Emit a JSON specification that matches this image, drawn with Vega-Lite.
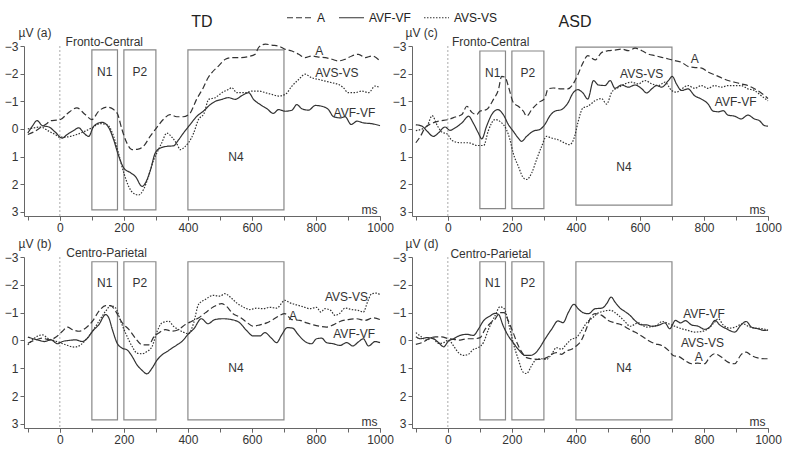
{
"$schema":"https://vega.github.io/schema/vega-lite/v6.json",
"padding":{"left":4,"top":4,"right":5,"bottom":5},
"config":{"font":"Liberation Sans","view":{"stroke":null},
"axis":{"grid":false,"domainColor":"#666","tickColor":"#666","labelColor":"#333","labelFontSize":12,"titleFontSize":12,"titleFontWeight":"normal","titleColor":"#333","tickSize":4,"labelPadding":2},
"title":{"fontWeight":"normal","fontSize":16,"color":"#222"},
"text":{"color":"#333","fontSize":12}},
"columns":2,
"spacing":{"row":41,"column":32},
"bounds":"flush",
"datasets":{"all":[
{"p":"a","z":0},{"p":"b","z":0},{"p":"c","z":0},{"p":"d","z":0},
{"p":"a","n":"N1","x1":100,"x2":180,"y1":-2.86,"y2":2.93,"nx":140,"ny":-2.06},
{"p":"a","n":"P2","x1":200,"x2":300,"y1":-2.86,"y2":2.93,"nx":250,"ny":-2.06},
{"p":"a","n":"N4","x1":400,"x2":700,"y1":-2.86,"y2":2.93,"nx":550,"ny":1.02},
{"p":"c","n":"N1","x1":100,"x2":180,"y1":-2.82,"y2":2.88,"nx":140,"ny":-2.04},
{"p":"c","n":"P2","x1":200,"x2":300,"y1":-2.82,"y2":2.88,"nx":250,"ny":-2.04},
{"p":"c","n":"N4","x1":400,"x2":700,"y1":-2.96,"y2":2.76,"nx":550,"ny":1.38},
{"p":"b","n":"N1","x1":100,"x2":180,"y1":-2.83,"y2":2.86,"nx":140,"ny":-2.05},
{"p":"b","n":"P2","x1":200,"x2":300,"y1":-2.83,"y2":2.86,"nx":250,"ny":-2.05},
{"p":"b","n":"N4","x1":400,"x2":700,"y1":-2.83,"y2":2.86,"nx":550,"ny":1.0},
{"p":"d","n":"N1","x1":100,"x2":180,"y1":-2.83,"y2":2.86,"nx":140,"ny":-2.05},
{"p":"d","n":"P2","x1":200,"x2":300,"y1":-2.83,"y2":2.86,"nx":250,"ny":-2.05},
{"p":"d","n":"N4","x1":400,"x2":700,"y1":-2.83,"y2":2.86,"nx":550,"ny":1.0},
{"p":"a","txt":"Fronto-Central","t":18,"v":-3.13},
{"p":"a","txt":"A","t":798,"v":-2.82},
{"p":"a","txt":"AVS-VS","t":798,"v":-2.04},
{"p":"a","txt":"AVF-VF","t":855,"v":-0.58},
{"p":"c","txt":"Fronto-Central","t":13,"v":-3.14},
{"p":"c","txt":"A","t":759,"v":-2.52},
{"p":"c","txt":"AVS-VS","t":538,"v":-1.98},
{"p":"c","txt":"AVF-VF","t":834,"v":-0.96},
{"p":"b","txt":"Centro-Parietal","t":20,"v":-3.13},
{"p":"b","txt":"AVS-VS","t":828,"v":-1.57},
{"p":"b","txt":"A","t":716,"v":-0.89},
{"p":"b","txt":"AVF-VF","t":854,"v":-0.24},
{"p":"d","txt":"Centro-Parietal","t":8,"v":-3.1},
{"p":"d","txt":"AVF-VF","t":735,"v":-0.96},
{"p":"d","txt":"AVS-VS","t":728,"v":0.09},
{"p":"d","txt":"A","t":771,"v":0.59},
{"p":"a","s":"A","t":-100,"v":0.2},{"p":"a","s":"A","t":-80,"v":0.1},{"p":"a","s":"A","t":-60,"v":-0.05},{"p":"a","s":"A","t":-40,"v":-0.2},{"p":"a","s":"A","t":-29,"v":-0.3},{"p":"a","s":"A","t":-10,"v":-0.32},{"p":"a","s":"A","t":2,"v":-0.34},{"p":"a","s":"A","t":23,"v":-0.55},{"p":"a","s":"A","t":53,"v":-0.76},{"p":"a","s":"A","t":79,"v":-0.52},{"p":"a","s":"A","t":100,"v":-0.34},{"p":"a","s":"A","t":121,"v":-0.64},{"p":"a","s":"A","t":147,"v":-0.79},{"p":"a","s":"A","t":168,"v":-0.7},{"p":"a","s":"A","t":181,"v":-0.52},{"p":"a","s":"A","t":194,"v":0.02},{"p":"a","s":"A","t":209,"v":0.5},{"p":"a","s":"A","t":225,"v":0.75},{"p":"a","s":"A","t":245,"v":0.73},{"p":"a","s":"A","t":261,"v":0.63},{"p":"a","s":"A","t":282,"v":0.27},{"p":"a","s":"A","t":302,"v":-0.04},{"p":"a","s":"A","t":323,"v":-0.34},{"p":"a","s":"A","t":344,"v":-0.52},{"p":"a","s":"A","t":365,"v":-0.44},{"p":"a","s":"A","t":385,"v":-0.44},{"p":"a","s":"A","t":406,"v":-0.56},{"p":"a","s":"A","t":427,"v":-1.07},{"p":"a","s":"A","t":448,"v":-1.49},{"p":"a","s":"A","t":463,"v":-1.85},{"p":"a","s":"A","t":475,"v":-2.04},{"p":"a","s":"A","t":496,"v":-2.28},{"p":"a","s":"A","t":517,"v":-2.52},{"p":"a","s":"A","t":537,"v":-2.58},{"p":"a","s":"A","t":558,"v":-2.58},{"p":"a","s":"A","t":590,"v":-2.62},{"p":"a","s":"A","t":610,"v":-2.7},{"p":"a","s":"A","t":621,"v":-2.95},{"p":"a","s":"A","t":642,"v":-3.07},{"p":"a","s":"A","t":662,"v":-3.03},{"p":"a","s":"A","t":683,"v":-3.0},{"p":"a","s":"A","t":704,"v":-2.88},{"p":"a","s":"A","t":725,"v":-2.82},{"p":"a","s":"A","t":746,"v":-2.7},{"p":"a","s":"A","t":766,"v":-2.58},{"p":"a","s":"A","t":787,"v":-2.64},{"p":"a","s":"A","t":808,"v":-2.6},{"p":"a","s":"A","t":829,"v":-2.58},{"p":"a","s":"A","t":850,"v":-2.52},{"p":"a","s":"A","t":870,"v":-2.46},{"p":"a","s":"A","t":891,"v":-2.52},{"p":"a","s":"A","t":912,"v":-2.64},{"p":"a","s":"A","t":933,"v":-2.7},{"p":"a","s":"A","t":954,"v":-2.58},{"p":"a","s":"A","t":975,"v":-2.64},{"p":"a","s":"A","t":1000,"v":-2.46},
{"p":"a","s":"AVS-VS","t":-100,"v":0.0},{"p":"a","s":"AVS-VS","t":-81,"v":-0.04},{"p":"a","s":"AVS-VS","t":-60,"v":-0.07},{"p":"a","s":"AVS-VS","t":-35,"v":0.08},{"p":"a","s":"AVS-VS","t":-15,"v":0.2},{"p":"a","s":"AVS-VS","t":0,"v":0.3},{"p":"a","s":"AVS-VS","t":23,"v":0.29},{"p":"a","s":"AVS-VS","t":53,"v":0.2},{"p":"a","s":"AVS-VS","t":79,"v":0.08},{"p":"a","s":"AVS-VS","t":100,"v":-0.04},{"p":"a","s":"AVS-VS","t":126,"v":-0.19},{"p":"a","s":"AVS-VS","t":147,"v":-0.16},{"p":"a","s":"AVS-VS","t":168,"v":0.27},{"p":"a","s":"AVS-VS","t":183,"v":0.87},{"p":"a","s":"AVS-VS","t":200,"v":1.6},{"p":"a","s":"AVS-VS","t":215,"v":2.08},{"p":"a","s":"AVS-VS","t":230,"v":2.33},{"p":"a","s":"AVS-VS","t":246,"v":2.39},{"p":"a","s":"AVS-VS","t":261,"v":2.2},{"p":"a","s":"AVS-VS","t":277,"v":1.72},{"p":"a","s":"AVS-VS","t":293,"v":1.12},{"p":"a","s":"AVS-VS","t":303,"v":0.87},{"p":"a","s":"AVS-VS","t":318,"v":0.51},{"p":"a","s":"AVS-VS","t":334,"v":0.15},{"p":"a","s":"AVS-VS","t":350,"v":0.3},{"p":"a","s":"AVS-VS","t":366,"v":0.55},{"p":"a","s":"AVS-VS","t":376,"v":0.75},{"p":"a","s":"AVS-VS","t":390,"v":0.65},{"p":"a","s":"AVS-VS","t":402,"v":0.5},{"p":"a","s":"AVS-VS","t":418,"v":0.15},{"p":"a","s":"AVS-VS","t":433,"v":-0.34},{"p":"a","s":"AVS-VS","t":450,"v":-0.55},{"p":"a","s":"AVS-VS","t":465,"v":-1.07},{"p":"a","s":"AVS-VS","t":485,"v":-1.13},{"p":"a","s":"AVS-VS","t":506,"v":-1.31},{"p":"a","s":"AVS-VS","t":527,"v":-1.43},{"p":"a","s":"AVS-VS","t":537,"v":-1.49},{"p":"a","s":"AVS-VS","t":553,"v":-1.31},{"p":"a","s":"AVS-VS","t":579,"v":-1.31},{"p":"a","s":"AVS-VS","t":600,"v":-1.37},{"p":"a","s":"AVS-VS","t":621,"v":-1.37},{"p":"a","s":"AVS-VS","t":642,"v":-1.31},{"p":"a","s":"AVS-VS","t":662,"v":-1.25},{"p":"a","s":"AVS-VS","t":683,"v":-1.19},{"p":"a","s":"AVS-VS","t":704,"v":-1.25},{"p":"a","s":"AVS-VS","t":725,"v":-1.55},{"p":"a","s":"AVS-VS","t":746,"v":-1.79},{"p":"a","s":"AVS-VS","t":766,"v":-1.98},{"p":"a","s":"AVS-VS","t":787,"v":-1.85},{"p":"a","s":"AVS-VS","t":808,"v":-1.79},{"p":"a","s":"AVS-VS","t":829,"v":-1.73},{"p":"a","s":"AVS-VS","t":850,"v":-1.67},{"p":"a","s":"AVS-VS","t":870,"v":-1.61},{"p":"a","s":"AVS-VS","t":885,"v":-1.5},{"p":"a","s":"AVS-VS","t":901,"v":-1.31},{"p":"a","s":"AVS-VS","t":922,"v":-1.31},{"p":"a","s":"AVS-VS","t":943,"v":-1.37},{"p":"a","s":"AVS-VS","t":964,"v":-1.31},{"p":"a","s":"AVS-VS","t":985,"v":-1.55},{"p":"a","s":"AVS-VS","t":1000,"v":-1.49},
{"p":"a","s":"AVF-VF","t":-100,"v":0.15},{"p":"a","s":"AVF-VF","t":-86,"v":-0.1},{"p":"a","s":"AVF-VF","t":-71,"v":-0.3},{"p":"a","s":"AVF-VF","t":-55,"v":-0.12},{"p":"a","s":"AVF-VF","t":-34,"v":-0.07},{"p":"a","s":"AVF-VF","t":-14,"v":0.12},{"p":"a","s":"AVF-VF","t":7,"v":0.33},{"p":"a","s":"AVF-VF","t":23,"v":0.2},{"p":"a","s":"AVF-VF","t":44,"v":0.05},{"p":"a","s":"AVF-VF","t":59,"v":-0.04},{"p":"a","s":"AVF-VF","t":75,"v":0.15},{"p":"a","s":"AVF-VF","t":90,"v":0.27},{"p":"a","s":"AVF-VF","t":106,"v":-0.1},{"p":"a","s":"AVF-VF","t":132,"v":-0.24},{"p":"a","s":"AVF-VF","t":153,"v":-0.04},{"p":"a","s":"AVF-VF","t":168,"v":0.39},{"p":"a","s":"AVF-VF","t":184,"v":0.99},{"p":"a","s":"AVF-VF","t":200,"v":1.42},{"p":"a","s":"AVF-VF","t":220,"v":1.58},{"p":"a","s":"AVF-VF","t":236,"v":1.72},{"p":"a","s":"AVF-VF","t":257,"v":2.08},{"p":"a","s":"AVF-VF","t":267,"v":1.96},{"p":"a","s":"AVF-VF","t":283,"v":1.48},{"p":"a","s":"AVF-VF","t":298,"v":0.87},{"p":"a","s":"AVF-VF","t":314,"v":0.69},{"p":"a","s":"AVF-VF","t":334,"v":0.63},{"p":"a","s":"AVF-VF","t":355,"v":0.61},{"p":"a","s":"AVF-VF","t":371,"v":0.39},{"p":"a","s":"AVF-VF","t":386,"v":0.15},{"p":"a","s":"AVF-VF","t":407,"v":-0.16},{"p":"a","s":"AVF-VF","t":428,"v":-0.46},{"p":"a","s":"AVF-VF","t":448,"v":-0.64},{"p":"a","s":"AVF-VF","t":470,"v":-0.88},{"p":"a","s":"AVF-VF","t":486,"v":-1.0},{"p":"a","s":"AVF-VF","t":506,"v":-1.07},{"p":"a","s":"AVF-VF","t":527,"v":-1.13},{"p":"a","s":"AVF-VF","t":548,"v":-1.07},{"p":"a","s":"AVF-VF","t":569,"v":-1.21},{"p":"a","s":"AVF-VF","t":590,"v":-1.31},{"p":"a","s":"AVF-VF","t":605,"v":-1.07},{"p":"a","s":"AVF-VF","t":626,"v":-0.88},{"p":"a","s":"AVF-VF","t":647,"v":-0.73},{"p":"a","s":"AVF-VF","t":667,"v":-0.56},{"p":"a","s":"AVF-VF","t":683,"v":-0.7},{"p":"a","s":"AVF-VF","t":704,"v":-0.64},{"p":"a","s":"AVF-VF","t":725,"v":-0.68},{"p":"a","s":"AVF-VF","t":740,"v":-0.88},{"p":"a","s":"AVF-VF","t":756,"v":-0.73},{"p":"a","s":"AVF-VF","t":777,"v":-0.68},{"p":"a","s":"AVF-VF","t":798,"v":-0.85},{"p":"a","s":"AVF-VF","t":818,"v":-0.82},{"p":"a","s":"AVF-VF","t":839,"v":-0.7},{"p":"a","s":"AVF-VF","t":855,"v":-0.44},{"p":"a","s":"AVF-VF","t":876,"v":-0.4},{"p":"a","s":"AVF-VF","t":891,"v":-0.44},{"p":"a","s":"AVF-VF","t":910,"v":-0.16},{"p":"a","s":"AVF-VF","t":928,"v":-0.28},{"p":"a","s":"AVF-VF","t":948,"v":-0.22},{"p":"a","s":"AVF-VF","t":974,"v":-0.19},{"p":"a","s":"AVF-VF","t":1000,"v":-0.12},
{"p":"c","s":"A","t":-100,"v":0.5},{"p":"c","s":"A","t":-86,"v":0.27},{"p":"c","s":"A","t":-71,"v":-0.04},{"p":"c","s":"A","t":-50,"v":-0.2},{"p":"c","s":"A","t":-29,"v":-0.28},{"p":"c","s":"A","t":2,"v":-0.34},{"p":"c","s":"A","t":23,"v":-0.43},{"p":"c","s":"A","t":44,"v":-0.52},{"p":"c","s":"A","t":59,"v":-0.82},{"p":"c","s":"A","t":75,"v":-0.6},{"p":"c","s":"A","t":90,"v":-0.52},{"p":"c","s":"A","t":100,"v":-0.64},{"p":"c","s":"A","t":121,"v":-0.7},{"p":"c","s":"A","t":142,"v":-1.06},{"p":"c","s":"A","t":158,"v":-1.42},{"p":"c","s":"A","t":168,"v":-1.9},{"p":"c","s":"A","t":179,"v":-1.87},{"p":"c","s":"A","t":189,"v":-1.54},{"p":"c","s":"A","t":205,"v":-0.94},{"p":"c","s":"A","t":220,"v":-0.82},{"p":"c","s":"A","t":236,"v":-0.64},{"p":"c","s":"A","t":246,"v":-0.46},{"p":"c","s":"A","t":262,"v":-0.7},{"p":"c","s":"A","t":282,"v":-0.94},{"p":"c","s":"A","t":303,"v":-1.12},{"p":"c","s":"A","t":313,"v":-1.45},{"p":"c","s":"A","t":329,"v":-1.48},{"p":"c","s":"A","t":355,"v":-1.45},{"p":"c","s":"A","t":375,"v":-1.45},{"p":"c","s":"A","t":396,"v":-1.72},{"p":"c","s":"A","t":406,"v":-1.96},{"p":"c","s":"A","t":422,"v":-2.39},{"p":"c","s":"A","t":437,"v":-2.65},{"p":"c","s":"A","t":460,"v":-2.5},{"p":"c","s":"A","t":481,"v":-2.77},{"p":"c","s":"A","t":501,"v":-2.83},{"p":"c","s":"A","t":522,"v":-2.85},{"p":"c","s":"A","t":543,"v":-2.89},{"p":"c","s":"A","t":564,"v":-2.83},{"p":"c","s":"A","t":585,"v":-2.92},{"p":"c","s":"A","t":606,"v":-2.83},{"p":"c","s":"A","t":626,"v":-2.71},{"p":"c","s":"A","t":647,"v":-2.65},{"p":"c","s":"A","t":668,"v":-2.59},{"p":"c","s":"A","t":689,"v":-2.53},{"p":"c","s":"A","t":709,"v":-2.47},{"p":"c","s":"A","t":730,"v":-2.41},{"p":"c","s":"A","t":752,"v":-2.25},{"p":"c","s":"A","t":773,"v":-2.22},{"p":"c","s":"A","t":793,"v":-2.2},{"p":"c","s":"A","t":814,"v":-2.05},{"p":"c","s":"A","t":835,"v":-1.95},{"p":"c","s":"A","t":854,"v":-1.85},{"p":"c","s":"A","t":875,"v":-1.75},{"p":"c","s":"A","t":896,"v":-1.69},{"p":"c","s":"A","t":916,"v":-1.63},{"p":"c","s":"A","t":937,"v":-1.57},{"p":"c","s":"A","t":958,"v":-1.45},{"p":"c","s":"A","t":979,"v":-1.3},{"p":"c","s":"A","t":1000,"v":-1.1},
{"p":"c","s":"AVF-VF","t":-100,"v":-0.15},{"p":"c","s":"AVF-VF","t":-81,"v":-0.1},{"p":"c","s":"AVF-VF","t":-65,"v":0.08},{"p":"c","s":"AVF-VF","t":-45,"v":0.27},{"p":"c","s":"AVF-VF","t":-29,"v":0.14},{"p":"c","s":"AVF-VF","t":-9,"v":-0.07},{"p":"c","s":"AVF-VF","t":7,"v":0.05},{"p":"c","s":"AVF-VF","t":23,"v":-0.04},{"p":"c","s":"AVF-VF","t":44,"v":-0.22},{"p":"c","s":"AVF-VF","t":65,"v":-0.46},{"p":"c","s":"AVF-VF","t":79,"v":-0.22},{"p":"c","s":"AVF-VF","t":95,"v":0.14},{"p":"c","s":"AVF-VF","t":106,"v":0.36},{"p":"c","s":"AVF-VF","t":121,"v":-0.1},{"p":"c","s":"AVF-VF","t":137,"v":-0.52},{"p":"c","s":"AVF-VF","t":156,"v":-0.7},{"p":"c","s":"AVF-VF","t":173,"v":-0.52},{"p":"c","s":"AVF-VF","t":189,"v":-0.16},{"p":"c","s":"AVF-VF","t":204,"v":0.08},{"p":"c","s":"AVF-VF","t":220,"v":0.33},{"p":"c","s":"AVF-VF","t":230,"v":0.45},{"p":"c","s":"AVF-VF","t":246,"v":0.27},{"p":"c","s":"AVF-VF","t":267,"v":0.08},{"p":"c","s":"AVF-VF","t":287,"v":0.02},{"p":"c","s":"AVF-VF","t":303,"v":-0.16},{"p":"c","s":"AVF-VF","t":318,"v":-0.46},{"p":"c","s":"AVF-VF","t":334,"v":-0.64},{"p":"c","s":"AVF-VF","t":355,"v":-0.7},{"p":"c","s":"AVF-VF","t":375,"v":-0.94},{"p":"c","s":"AVF-VF","t":391,"v":-1.3},{"p":"c","s":"AVF-VF","t":406,"v":-1.42},{"p":"c","s":"AVF-VF","t":422,"v":-1.3},{"p":"c","s":"AVF-VF","t":437,"v":-1.08},{"p":"c","s":"AVF-VF","t":455,"v":-1.75},{"p":"c","s":"AVF-VF","t":470,"v":-1.59},{"p":"c","s":"AVF-VF","t":491,"v":-1.57},{"p":"c","s":"AVF-VF","t":507,"v":-1.75},{"p":"c","s":"AVF-VF","t":522,"v":-1.47},{"p":"c","s":"AVF-VF","t":543,"v":-1.59},{"p":"c","s":"AVF-VF","t":564,"v":-1.51},{"p":"c","s":"AVF-VF","t":585,"v":-1.59},{"p":"c","s":"AVF-VF","t":606,"v":-1.45},{"p":"c","s":"AVF-VF","t":621,"v":-1.3},{"p":"c","s":"AVF-VF","t":637,"v":-1.45},{"p":"c","s":"AVF-VF","t":652,"v":-1.57},{"p":"c","s":"AVF-VF","t":668,"v":-1.51},{"p":"c","s":"AVF-VF","t":689,"v":-1.75},{"p":"c","s":"AVF-VF","t":701,"v":-1.9},{"p":"c","s":"AVF-VF","t":714,"v":-1.63},{"p":"c","s":"AVF-VF","t":730,"v":-1.39},{"p":"c","s":"AVF-VF","t":750,"v":-1.45},{"p":"c","s":"AVF-VF","t":771,"v":-1.2},{"p":"c","s":"AVF-VF","t":792,"v":-1.08},{"p":"c","s":"AVF-VF","t":813,"v":-0.9},{"p":"c","s":"AVF-VF","t":828,"v":-0.65},{"p":"c","s":"AVF-VF","t":845,"v":-0.62},{"p":"c","s":"AVF-VF","t":860,"v":-0.66},{"p":"c","s":"AVF-VF","t":875,"v":-0.5},{"p":"c","s":"AVF-VF","t":896,"v":-0.46},{"p":"c","s":"AVF-VF","t":916,"v":-0.36},{"p":"c","s":"AVF-VF","t":937,"v":-0.5},{"p":"c","s":"AVF-VF","t":958,"v":-0.36},{"p":"c","s":"AVF-VF","t":973,"v":-0.3},{"p":"c","s":"AVF-VF","t":989,"v":-0.12},{"p":"c","s":"AVF-VF","t":1000,"v":-0.1},
{"p":"c","s":"AVS-VS","t":-100,"v":0.06},{"p":"c","s":"AVS-VS","t":-80,"v":0.0},{"p":"c","s":"AVS-VS","t":-65,"v":-0.1},{"p":"c","s":"AVS-VS","t":-49,"v":-0.48},{"p":"c","s":"AVS-VS","t":-33,"v":-0.12},{"p":"c","s":"AVS-VS","t":-18,"v":0.12},{"p":"c","s":"AVS-VS","t":-2,"v":0.18},{"p":"c","s":"AVS-VS","t":13,"v":0.42},{"p":"c","s":"AVS-VS","t":39,"v":0.5},{"p":"c","s":"AVS-VS","t":65,"v":0.5},{"p":"c","s":"AVS-VS","t":91,"v":0.6},{"p":"c","s":"AVS-VS","t":112,"v":0.6},{"p":"c","s":"AVS-VS","t":126,"v":0.08},{"p":"c","s":"AVS-VS","t":147,"v":-0.34},{"p":"c","s":"AVS-VS","t":168,"v":-0.22},{"p":"c","s":"AVS-VS","t":183,"v":0.02},{"p":"c","s":"AVS-VS","t":194,"v":0.39},{"p":"c","s":"AVS-VS","t":204,"v":0.87},{"p":"c","s":"AVS-VS","t":220,"v":1.35},{"p":"c","s":"AVS-VS","t":236,"v":1.77},{"p":"c","s":"AVS-VS","t":246,"v":1.83},{"p":"c","s":"AVS-VS","t":262,"v":1.59},{"p":"c","s":"AVS-VS","t":277,"v":1.11},{"p":"c","s":"AVS-VS","t":293,"v":0.63},{"p":"c","s":"AVS-VS","t":308,"v":0.27},{"p":"c","s":"AVS-VS","t":324,"v":0.33},{"p":"c","s":"AVS-VS","t":344,"v":0.39},{"p":"c","s":"AVS-VS","t":365,"v":0.51},{"p":"c","s":"AVS-VS","t":380,"v":0.57},{"p":"c","s":"AVS-VS","t":396,"v":0.27},{"p":"c","s":"AVS-VS","t":406,"v":-0.22},{"p":"c","s":"AVS-VS","t":422,"v":-0.76},{"p":"c","s":"AVS-VS","t":437,"v":-0.82},{"p":"c","s":"AVS-VS","t":460,"v":-1.02},{"p":"c","s":"AVS-VS","t":480,"v":-1.1},{"p":"c","s":"AVS-VS","t":496,"v":-0.9},{"p":"c","s":"AVS-VS","t":512,"v":-1.33},{"p":"c","s":"AVS-VS","t":533,"v":-1.5},{"p":"c","s":"AVS-VS","t":574,"v":-1.69},{"p":"c","s":"AVS-VS","t":595,"v":-1.63},{"p":"c","s":"AVS-VS","t":616,"v":-1.75},{"p":"c","s":"AVS-VS","t":637,"v":-1.63},{"p":"c","s":"AVS-VS","t":658,"v":-1.57},{"p":"c","s":"AVS-VS","t":678,"v":-1.69},{"p":"c","s":"AVS-VS","t":699,"v":-1.39},{"p":"c","s":"AVS-VS","t":714,"v":-1.33},{"p":"c","s":"AVS-VS","t":730,"v":-1.45},{"p":"c","s":"AVS-VS","t":750,"v":-1.57},{"p":"c","s":"AVS-VS","t":771,"v":-1.47},{"p":"c","s":"AVS-VS","t":792,"v":-1.57},{"p":"c","s":"AVS-VS","t":813,"v":-1.47},{"p":"c","s":"AVS-VS","t":833,"v":-1.57},{"p":"c","s":"AVS-VS","t":854,"v":-1.51},{"p":"c","s":"AVS-VS","t":875,"v":-1.57},{"p":"c","s":"AVS-VS","t":896,"v":-1.57},{"p":"c","s":"AVS-VS","t":916,"v":-1.57},{"p":"c","s":"AVS-VS","t":937,"v":-1.45},{"p":"c","s":"AVS-VS","t":958,"v":-1.39},{"p":"c","s":"AVS-VS","t":979,"v":-1.2},{"p":"c","s":"AVS-VS","t":1000,"v":-1.02},
{"p":"b","s":"A","t":-100,"v":0.1},{"p":"b","s":"A","t":-75,"v":-0.02},{"p":"b","s":"A","t":-54,"v":-0.08},{"p":"b","s":"A","t":-33,"v":-0.02},{"p":"b","s":"A","t":-12,"v":-0.12},{"p":"b","s":"A","t":8,"v":-0.33},{"p":"b","s":"A","t":24,"v":-0.48},{"p":"b","s":"A","t":39,"v":-0.39},{"p":"b","s":"A","t":60,"v":-0.33},{"p":"b","s":"A","t":81,"v":-0.45},{"p":"b","s":"A","t":102,"v":-0.69},{"p":"b","s":"A","t":122,"v":-1.05},{"p":"b","s":"A","t":143,"v":-1.25},{"p":"b","s":"A","t":159,"v":-1.25},{"p":"b","s":"A","t":174,"v":-1.05},{"p":"b","s":"A","t":195,"v":-0.63},{"p":"b","s":"A","t":216,"v":-0.39},{"p":"b","s":"A","t":236,"v":-0.08},{"p":"b","s":"A","t":257,"v":0.16},{"p":"b","s":"A","t":278,"v":0.16},{"p":"b","s":"A","t":293,"v":-0.12},{"p":"b","s":"A","t":309,"v":-0.27},{"p":"b","s":"A","t":330,"v":-0.39},{"p":"b","s":"A","t":350,"v":-0.33},{"p":"b","s":"A","t":371,"v":-0.39},{"p":"b","s":"A","t":392,"v":-0.57},{"p":"b","s":"A","t":412,"v":-0.69},{"p":"b","s":"A","t":433,"v":-0.81},{"p":"b","s":"A","t":454,"v":-0.99},{"p":"b","s":"A","t":479,"v":-1.2},{"p":"b","s":"A","t":505,"v":-1.32},{"p":"b","s":"A","t":520,"v":-1.23},{"p":"b","s":"A","t":541,"v":-0.96},{"p":"b","s":"A","t":562,"v":-0.84},{"p":"b","s":"A","t":583,"v":-0.66},{"p":"b","s":"A","t":604,"v":-0.51},{"p":"b","s":"A","t":625,"v":-0.56},{"p":"b","s":"A","t":646,"v":-0.63},{"p":"b","s":"A","t":666,"v":-0.75},{"p":"b","s":"A","t":687,"v":-0.9},{"p":"b","s":"A","t":703,"v":-0.96},{"p":"b","s":"A","t":724,"v":-0.75},{"p":"b","s":"A","t":750,"v":-0.72},{"p":"b","s":"A","t":771,"v":-0.63},{"p":"b","s":"A","t":792,"v":-0.56},{"p":"b","s":"A","t":812,"v":-0.51},{"p":"b","s":"A","t":833,"v":-0.48},{"p":"b","s":"A","t":854,"v":-0.56},{"p":"b","s":"A","t":875,"v":-0.68},{"p":"b","s":"A","t":901,"v":-0.75},{"p":"b","s":"A","t":927,"v":-0.78},{"p":"b","s":"A","t":953,"v":-0.72},{"p":"b","s":"A","t":979,"v":-0.81},{"p":"b","s":"A","t":1000,"v":-0.75},
{"p":"b","s":"AVF-VF","t":-100,"v":-0.12},{"p":"b","s":"AVF-VF","t":-80,"v":-0.05},{"p":"b","s":"AVF-VF","t":-64,"v":0.0},{"p":"b","s":"AVF-VF","t":-49,"v":0.04},{"p":"b","s":"AVF-VF","t":-28,"v":-0.02},{"p":"b","s":"AVF-VF","t":-7,"v":0.12},{"p":"b","s":"AVF-VF","t":8,"v":0.04},{"p":"b","s":"AVF-VF","t":29,"v":0.0},{"p":"b","s":"AVF-VF","t":50,"v":-0.02},{"p":"b","s":"AVF-VF","t":70,"v":0.04},{"p":"b","s":"AVF-VF","t":86,"v":-0.08},{"p":"b","s":"AVF-VF","t":102,"v":-0.33},{"p":"b","s":"AVF-VF","t":122,"v":-0.57},{"p":"b","s":"AVF-VF","t":143,"v":-0.93},{"p":"b","s":"AVF-VF","t":153,"v":-0.81},{"p":"b","s":"AVF-VF","t":164,"v":-0.39},{"p":"b","s":"AVF-VF","t":179,"v":0.1},{"p":"b","s":"AVF-VF","t":195,"v":0.28},{"p":"b","s":"AVF-VF","t":210,"v":0.34},{"p":"b","s":"AVF-VF","t":226,"v":0.58},{"p":"b","s":"AVF-VF","t":241,"v":0.88},{"p":"b","s":"AVF-VF","t":257,"v":1.08},{"p":"b","s":"AVF-VF","t":272,"v":1.2},{"p":"b","s":"AVF-VF","t":288,"v":1.0},{"p":"b","s":"AVF-VF","t":304,"v":0.7},{"p":"b","s":"AVF-VF","t":319,"v":0.52},{"p":"b","s":"AVF-VF","t":335,"v":0.4},{"p":"b","s":"AVF-VF","t":350,"v":0.28},{"p":"b","s":"AVF-VF","t":366,"v":0.16},{"p":"b","s":"AVF-VF","t":381,"v":0.04},{"p":"b","s":"AVF-VF","t":402,"v":-0.24},{"p":"b","s":"AVF-VF","t":418,"v":-0.41},{"p":"b","s":"AVF-VF","t":442,"v":-0.78},{"p":"b","s":"AVF-VF","t":463,"v":-0.6},{"p":"b","s":"AVF-VF","t":484,"v":-0.75},{"p":"b","s":"AVF-VF","t":510,"v":-0.78},{"p":"b","s":"AVF-VF","t":536,"v":-0.75},{"p":"b","s":"AVF-VF","t":562,"v":-0.63},{"p":"b","s":"AVF-VF","t":583,"v":-0.36},{"p":"b","s":"AVF-VF","t":604,"v":-0.16},{"p":"b","s":"AVF-VF","t":625,"v":-0.16},{"p":"b","s":"AVF-VF","t":640,"v":-0.28},{"p":"b","s":"AVF-VF","t":661,"v":-0.08},{"p":"b","s":"AVF-VF","t":677,"v":0.08},{"p":"b","s":"AVF-VF","t":693,"v":-0.2},{"p":"b","s":"AVF-VF","t":710,"v":-0.46},{"p":"b","s":"AVF-VF","t":727,"v":-0.44},{"p":"b","s":"AVF-VF","t":745,"v":-0.2},{"p":"b","s":"AVF-VF","t":766,"v":0.04},{"p":"b","s":"AVF-VF","t":786,"v":0.12},{"p":"b","s":"AVF-VF","t":802,"v":-0.06},{"p":"b","s":"AVF-VF","t":818,"v":-0.08},{"p":"b","s":"AVF-VF","t":833,"v":0.08},{"p":"b","s":"AVF-VF","t":854,"v":0.12},{"p":"b","s":"AVF-VF","t":875,"v":0.18},{"p":"b","s":"AVF-VF","t":896,"v":0.08},{"p":"b","s":"AVF-VF","t":915,"v":0.2},{"p":"b","s":"AVF-VF","t":932,"v":0.06},{"p":"b","s":"AVF-VF","t":948,"v":-0.06},{"p":"b","s":"AVF-VF","t":964,"v":0.2},{"p":"b","s":"AVF-VF","t":985,"v":0.04},{"p":"b","s":"AVF-VF","t":1000,"v":0.08},
{"p":"b","s":"AVS-VS","t":-100,"v":0.16},{"p":"b","s":"AVS-VS","t":-75,"v":-0.12},{"p":"b","s":"AVS-VS","t":-54,"v":-0.2},{"p":"b","s":"AVS-VS","t":-38,"v":-0.08},{"p":"b","s":"AVS-VS","t":-20,"v":0.0},{"p":"b","s":"AVS-VS","t":-2,"v":0.07},{"p":"b","s":"AVS-VS","t":19,"v":0.16},{"p":"b","s":"AVS-VS","t":45,"v":0.24},{"p":"b","s":"AVS-VS","t":65,"v":0.16},{"p":"b","s":"AVS-VS","t":81,"v":-0.02},{"p":"b","s":"AVS-VS","t":102,"v":-0.33},{"p":"b","s":"AVS-VS","t":122,"v":-0.69},{"p":"b","s":"AVS-VS","t":143,"v":-1.05},{"p":"b","s":"AVS-VS","t":159,"v":-1.25},{"p":"b","s":"AVS-VS","t":174,"v":-1.17},{"p":"b","s":"AVS-VS","t":190,"v":-0.69},{"p":"b","s":"AVS-VS","t":205,"v":-0.27},{"p":"b","s":"AVS-VS","t":226,"v":0.22},{"p":"b","s":"AVS-VS","t":241,"v":0.46},{"p":"b","s":"AVS-VS","t":257,"v":0.48},{"p":"b","s":"AVS-VS","t":272,"v":0.4},{"p":"b","s":"AVS-VS","t":288,"v":0.22},{"p":"b","s":"AVS-VS","t":304,"v":-0.33},{"p":"b","s":"AVS-VS","t":319,"v":-0.63},{"p":"b","s":"AVS-VS","t":340,"v":-0.69},{"p":"b","s":"AVS-VS","t":355,"v":-0.51},{"p":"b","s":"AVS-VS","t":371,"v":-0.39},{"p":"b","s":"AVS-VS","t":387,"v":-0.29},{"p":"b","s":"AVS-VS","t":402,"v":-0.24},{"p":"b","s":"AVS-VS","t":418,"v":-0.63},{"p":"b","s":"AVS-VS","t":433,"v":-1.29},{"p":"b","s":"AVS-VS","t":454,"v":-1.47},{"p":"b","s":"AVS-VS","t":479,"v":-1.62},{"p":"b","s":"AVS-VS","t":500,"v":-1.59},{"p":"b","s":"AVS-VS","t":515,"v":-1.68},{"p":"b","s":"AVS-VS","t":536,"v":-1.52},{"p":"b","s":"AVS-VS","t":552,"v":-1.35},{"p":"b","s":"AVS-VS","t":573,"v":-1.2},{"p":"b","s":"AVS-VS","t":593,"v":-1.11},{"p":"b","s":"AVS-VS","t":614,"v":-1.16},{"p":"b","s":"AVS-VS","t":635,"v":-1.14},{"p":"b","s":"AVS-VS","t":656,"v":-1.19},{"p":"b","s":"AVS-VS","t":677,"v":-1.16},{"p":"b","s":"AVS-VS","t":703,"v":-1.44},{"p":"b","s":"AVS-VS","t":719,"v":-1.35},{"p":"b","s":"AVS-VS","t":739,"v":-1.28},{"p":"b","s":"AVS-VS","t":760,"v":-1.21},{"p":"b","s":"AVS-VS","t":781,"v":-1.14},{"p":"b","s":"AVS-VS","t":802,"v":-1.19},{"p":"b","s":"AVS-VS","t":815,"v":-1.02},{"p":"b","s":"AVS-VS","t":828,"v":-1.14},{"p":"b","s":"AVS-VS","t":846,"v":-1.08},{"p":"b","s":"AVS-VS","t":859,"v":-0.9},{"p":"b","s":"AVS-VS","t":873,"v":-0.96},{"p":"b","s":"AVS-VS","t":891,"v":-1.16},{"p":"b","s":"AVS-VS","t":912,"v":-1.11},{"p":"b","s":"AVS-VS","t":932,"v":-1.08},{"p":"b","s":"AVS-VS","t":948,"v":-1.02},{"p":"b","s":"AVS-VS","t":961,"v":-1.38},{"p":"b","s":"AVS-VS","t":974,"v":-1.68},{"p":"b","s":"AVS-VS","t":990,"v":-1.7},{"p":"b","s":"AVS-VS","t":1000,"v":-1.64},
{"p":"d","s":"A","t":-100,"v":0.14},{"p":"d","s":"A","t":-81,"v":0.08},{"p":"d","s":"A","t":-60,"v":-0.06},{"p":"d","s":"A","t":-39,"v":-0.13},{"p":"d","s":"A","t":-19,"v":-0.13},{"p":"d","s":"A","t":2,"v":-0.06},{"p":"d","s":"A","t":18,"v":-0.04},{"p":"d","s":"A","t":38,"v":-0.01},{"p":"d","s":"A","t":59,"v":-0.06},{"p":"d","s":"A","t":80,"v":-0.06},{"p":"d","s":"A","t":101,"v":-0.1},{"p":"d","s":"A","t":116,"v":-0.4},{"p":"d","s":"A","t":132,"v":-0.61},{"p":"d","s":"A","t":147,"v":-0.76},{"p":"d","s":"A","t":163,"v":-1.0},{"p":"d","s":"A","t":176,"v":-1.0},{"p":"d","s":"A","t":189,"v":-0.7},{"p":"d","s":"A","t":204,"v":-0.28},{"p":"d","s":"A","t":218,"v":0.14},{"p":"d","s":"A","t":232,"v":0.44},{"p":"d","s":"A","t":246,"v":0.62},{"p":"d","s":"A","t":261,"v":0.66},{"p":"d","s":"A","t":277,"v":0.68},{"p":"d","s":"A","t":293,"v":0.68},{"p":"d","s":"A","t":308,"v":0.62},{"p":"d","s":"A","t":324,"v":0.5},{"p":"d","s":"A","t":339,"v":0.44},{"p":"d","s":"A","t":355,"v":0.5},{"p":"d","s":"A","t":370,"v":0.38},{"p":"d","s":"A","t":386,"v":0.32},{"p":"d","s":"A","t":401,"v":0.2},{"p":"d","s":"A","t":417,"v":0.0},{"p":"d","s":"A","t":432,"v":-0.4},{"p":"d","s":"A","t":445,"v":-0.8},{"p":"d","s":"A","t":460,"v":-0.96},{"p":"d","s":"A","t":481,"v":-0.9},{"p":"d","s":"A","t":501,"v":-0.72},{"p":"d","s":"A","t":522,"v":-0.63},{"p":"d","s":"A","t":543,"v":-0.56},{"p":"d","s":"A","t":564,"v":-0.42},{"p":"d","s":"A","t":584,"v":-0.3},{"p":"d","s":"A","t":605,"v":-0.16},{"p":"d","s":"A","t":626,"v":0.0},{"p":"d","s":"A","t":647,"v":0.12},{"p":"d","s":"A","t":668,"v":0.18},{"p":"d","s":"A","t":689,"v":0.36},{"p":"d","s":"A","t":704,"v":0.54},{"p":"d","s":"A","t":725,"v":0.6},{"p":"d","s":"A","t":740,"v":0.72},{"p":"d","s":"A","t":761,"v":0.84},{"p":"d","s":"A","t":780,"v":0.82},{"p":"d","s":"A","t":802,"v":0.84},{"p":"d","s":"A","t":818,"v":0.6},{"p":"d","s":"A","t":833,"v":0.48},{"p":"d","s":"A","t":854,"v":0.6},{"p":"d","s":"A","t":875,"v":0.78},{"p":"d","s":"A","t":896,"v":0.84},{"p":"d","s":"A","t":916,"v":0.51},{"p":"d","s":"A","t":932,"v":0.42},{"p":"d","s":"A","t":948,"v":0.54},{"p":"d","s":"A","t":968,"v":0.63},{"p":"d","s":"A","t":989,"v":0.66},{"p":"d","s":"A","t":1000,"v":0.66},
{"p":"d","s":"AVF-VF","t":-100,"v":-0.13},{"p":"d","s":"AVF-VF","t":-86,"v":-0.06},{"p":"d","s":"AVF-VF","t":-65,"v":-0.1},{"p":"d","s":"AVF-VF","t":-45,"v":-0.06},{"p":"d","s":"AVF-VF","t":-29,"v":0.08},{"p":"d","s":"AVF-VF","t":-13,"v":0.23},{"p":"d","s":"AVF-VF","t":2,"v":0.02},{"p":"d","s":"AVF-VF","t":18,"v":-0.06},{"p":"d","s":"AVF-VF","t":38,"v":-0.18},{"p":"d","s":"AVF-VF","t":59,"v":-0.22},{"p":"d","s":"AVF-VF","t":80,"v":-0.18},{"p":"d","s":"AVF-VF","t":95,"v":-0.4},{"p":"d","s":"AVF-VF","t":111,"v":-0.7},{"p":"d","s":"AVF-VF","t":132,"v":-0.88},{"p":"d","s":"AVF-VF","t":147,"v":-0.97},{"p":"d","s":"AVF-VF","t":158,"v":-0.94},{"p":"d","s":"AVF-VF","t":173,"v":-0.52},{"p":"d","s":"AVF-VF","t":189,"v":-0.16},{"p":"d","s":"AVF-VF","t":204,"v":0.08},{"p":"d","s":"AVF-VF","t":220,"v":0.32},{"p":"d","s":"AVF-VF","t":241,"v":0.54},{"p":"d","s":"AVF-VF","t":256,"v":0.54},{"p":"d","s":"AVF-VF","t":272,"v":0.47},{"p":"d","s":"AVF-VF","t":287,"v":0.26},{"p":"d","s":"AVF-VF","t":303,"v":-0.04},{"p":"d","s":"AVF-VF","t":324,"v":-0.4},{"p":"d","s":"AVF-VF","t":344,"v":-0.7},{"p":"d","s":"AVF-VF","t":360,"v":-0.64},{"p":"d","s":"AVF-VF","t":376,"v":-1.0},{"p":"d","s":"AVF-VF","t":394,"v":-1.3},{"p":"d","s":"AVF-VF","t":407,"v":-1.14},{"p":"d","s":"AVF-VF","t":422,"v":-1.0},{"p":"d","s":"AVF-VF","t":439,"v":-0.96},{"p":"d","s":"AVF-VF","t":460,"v":-1.14},{"p":"d","s":"AVF-VF","t":481,"v":-1.16},{"p":"d","s":"AVF-VF","t":496,"v":-1.32},{"p":"d","s":"AVF-VF","t":510,"v":-1.56},{"p":"d","s":"AVF-VF","t":522,"v":-1.38},{"p":"d","s":"AVF-VF","t":538,"v":-1.16},{"p":"d","s":"AVF-VF","t":553,"v":-1.04},{"p":"d","s":"AVF-VF","t":569,"v":-0.9},{"p":"d","s":"AVF-VF","t":584,"v":-0.72},{"p":"d","s":"AVF-VF","t":605,"v":-0.56},{"p":"d","s":"AVF-VF","t":621,"v":-0.56},{"p":"d","s":"AVF-VF","t":636,"v":-0.51},{"p":"d","s":"AVF-VF","t":657,"v":-0.54},{"p":"d","s":"AVF-VF","t":678,"v":-0.63},{"p":"d","s":"AVF-VF","t":693,"v":-0.42},{"p":"d","s":"AVF-VF","t":711,"v":-0.72},{"p":"d","s":"AVF-VF","t":727,"v":-0.63},{"p":"d","s":"AVF-VF","t":742,"v":-0.71},{"p":"d","s":"AVF-VF","t":761,"v":-0.56},{"p":"d","s":"AVF-VF","t":782,"v":-0.51},{"p":"d","s":"AVF-VF","t":802,"v":-0.4},{"p":"d","s":"AVF-VF","t":818,"v":-0.48},{"p":"d","s":"AVF-VF","t":835,"v":-0.72},{"p":"d","s":"AVF-VF","t":849,"v":-0.56},{"p":"d","s":"AVF-VF","t":870,"v":-0.42},{"p":"d","s":"AVF-VF","t":896,"v":-0.3},{"p":"d","s":"AVF-VF","t":916,"v":-0.56},{"p":"d","s":"AVF-VF","t":932,"v":-0.68},{"p":"d","s":"AVF-VF","t":948,"v":-0.48},{"p":"d","s":"AVF-VF","t":968,"v":-0.42},{"p":"d","s":"AVF-VF","t":989,"v":-0.36},{"p":"d","s":"AVF-VF","t":1000,"v":-0.38},
{"p":"d","s":"AVS-VS","t":-100,"v":-0.28},{"p":"d","s":"AVS-VS","t":-86,"v":-0.16},{"p":"d","s":"AVS-VS","t":-65,"v":-0.01},{"p":"d","s":"AVS-VS","t":-50,"v":-0.1},{"p":"d","s":"AVS-VS","t":-29,"v":0.11},{"p":"d","s":"AVS-VS","t":-13,"v":0.08},{"p":"d","s":"AVS-VS","t":2,"v":-0.01},{"p":"d","s":"AVS-VS","t":18,"v":0.2},{"p":"d","s":"AVS-VS","t":33,"v":0.44},{"p":"d","s":"AVS-VS","t":49,"v":0.54},{"p":"d","s":"AVS-VS","t":64,"v":0.5},{"p":"d","s":"AVS-VS","t":80,"v":0.32},{"p":"d","s":"AVS-VS","t":95,"v":0.26},{"p":"d","s":"AVS-VS","t":111,"v":0.08},{"p":"d","s":"AVS-VS","t":127,"v":-0.4},{"p":"d","s":"AVS-VS","t":147,"v":-0.88},{"p":"d","s":"AVS-VS","t":163,"v":-1.21},{"p":"d","s":"AVS-VS","t":176,"v":-1.14},{"p":"d","s":"AVS-VS","t":189,"v":-0.64},{"p":"d","s":"AVS-VS","t":204,"v":0.08},{"p":"d","s":"AVS-VS","t":220,"v":0.68},{"p":"d","s":"AVS-VS","t":235,"v":1.14},{"p":"d","s":"AVS-VS","t":246,"v":1.19},{"p":"d","s":"AVS-VS","t":261,"v":0.92},{"p":"d","s":"AVS-VS","t":277,"v":0.68},{"p":"d","s":"AVS-VS","t":293,"v":0.66},{"p":"d","s":"AVS-VS","t":308,"v":0.68},{"p":"d","s":"AVS-VS","t":324,"v":0.5},{"p":"d","s":"AVS-VS","t":339,"v":0.26},{"p":"d","s":"AVS-VS","t":355,"v":0.32},{"p":"d","s":"AVS-VS","t":370,"v":0.14},{"p":"d","s":"AVS-VS","t":386,"v":-0.04},{"p":"d","s":"AVS-VS","t":401,"v":-0.1},{"p":"d","s":"AVS-VS","t":417,"v":-0.34},{"p":"d","s":"AVS-VS","t":432,"v":-0.61},{"p":"d","s":"AVS-VS","t":453,"v":-0.82},{"p":"d","s":"AVS-VS","t":470,"v":-0.99},{"p":"d","s":"AVS-VS","t":507,"v":-1.08},{"p":"d","s":"AVS-VS","t":533,"v":-0.9},{"p":"d","s":"AVS-VS","t":553,"v":-0.68},{"p":"d","s":"AVS-VS","t":569,"v":-0.51},{"p":"d","s":"AVS-VS","t":595,"v":-0.63},{"p":"d","s":"AVS-VS","t":621,"v":-0.48},{"p":"d","s":"AVS-VS","t":647,"v":-0.51},{"p":"d","s":"AVS-VS","t":670,"v":-0.68},{"p":"d","s":"AVS-VS","t":689,"v":-0.6},{"p":"d","s":"AVS-VS","t":709,"v":-0.51},{"p":"d","s":"AVS-VS","t":730,"v":-0.42},{"p":"d","s":"AVS-VS","t":750,"v":-0.36},{"p":"d","s":"AVS-VS","t":771,"v":-0.3},{"p":"d","s":"AVS-VS","t":792,"v":-0.32},{"p":"d","s":"AVS-VS","t":813,"v":-0.42},{"p":"d","s":"AVS-VS","t":831,"v":-0.63},{"p":"d","s":"AVS-VS","t":845,"v":-0.78},{"p":"d","s":"AVS-VS","t":859,"v":-0.57},{"p":"d","s":"AVS-VS","t":880,"v":-0.44},{"p":"d","s":"AVS-VS","t":900,"v":-0.49},{"p":"d","s":"AVS-VS","t":921,"v":-0.6},{"p":"d","s":"AVS-VS","t":942,"v":-0.49},{"p":"d","s":"AVS-VS","t":963,"v":-0.44},{"p":"d","s":"AVS-VS","t":984,"v":-0.42},{"p":"d","s":"AVS-VS","t":1000,"v":-0.36}
]},
"concat":[
{"width":356,"height":170,"title":{"text":"TD","frame":"group","offset":-4},
"data":{"name":"all"},"transform":[{"filter":"datum.p=='a'"}],
"resolve":{"scale":{"x":"independent"},"axis":{"x":"independent"}},
"layer":[
{"transform":[{"filter":"isValid(datum.z)"}],"mark":{"type":"rule","stroke":"#aaa","strokeDash":[2,2],"strokeWidth":1},"encoding":{"x":{"field":"z","type":"quantitative","scale":{"domain":[-112,1000],"nice":false,"zero":false},"axis":{"orient":"bottom","values":[-100,0,100,200,300,400,500,600,700,800,900,1000],"labels":false,"domain":false,"title":null}}}},
{"layer":[
{"transform":[{"filter":"isValid(datum.n)"}],"mark":{"type":"rect","fill":null,"stroke":"#888","strokeWidth":1.2},"encoding":{"x":{"field":"x1","type":"quantitative"},"x2":{"field":"x2"},"y":{"field":"y1","type":"quantitative"},"y2":{"field":"y2"}}},
{"transform":[{"filter":"isValid(datum.n)"}],"mark":{"type":"text"},"encoding":{"x":{"field":"nx","type":"quantitative"},"y":{"field":"ny","type":"quantitative"},"text":{"field":"n"}}},
{"transform":[{"filter":"isValid(datum.s)"}],"mark":{"type":"line","color":"#333","strokeWidth":1.2,"interpolate":"monotone"},"encoding":{
"x":{"field":"t","type":"quantitative","scale":{"domain":[-112,1000],"nice":false,"zero":false},"axis":{"orient":"bottom","values":[0,200,400,600,800,1000],"format":"d","labelFlush":false,"title":"ms","titleX":345,"titleY":-3,"titleBaseline":"alphabetic"}},
"y":{"field":"v","type":"quantitative","scale":{"domain":[-3,3.15],"reverse":true,"nice":false,"zero":false},"axis":{"tickCount":7,"format":"d","title":"µV (a)","titleAngle":0,"titleX":-6,"titleY":-14,"titleAlign":"left","titleBaseline":"middle"}},
"strokeDash":{"field":"s","type":"nominal","scale":{"domain":["A","AVF-VF","AVS-VS"],"range":[[6,3],[1,0],[1.5,1.5]]},"legend":{"orient":"none","legendX":262,"legendY":-42,"direction":"horizontal","title":null,"symbolType":"stroke","symbolSize":625,"symbolStrokeColor":"#333","symbolStrokeWidth":1.2,"labelFontSize":12,"labelColor":"#222","columnPadding":10,"labelOffset":4}}}},
{"transform":[{"filter":"isValid(datum.txt)"}],"mark":{"type":"text","align":"left"},"encoding":{"x":{"field":"t","type":"quantitative"},"y":{"field":"v","type":"quantitative"},"text":{"field":"txt"}}}
]}
]},
{"width":356,"height":170,"title":{"text":"ASD","frame":"group","offset":-4,"dx":-15},
"data":{"name":"all"},"transform":[{"filter":"datum.p=='c'"}],
"resolve":{"scale":{"x":"independent"},"axis":{"x":"independent"}},
"layer":[
{"transform":[{"filter":"isValid(datum.z)"}],"mark":{"type":"rule","stroke":"#aaa","strokeDash":[2,2],"strokeWidth":1},"encoding":{"x":{"field":"z","type":"quantitative","scale":{"domain":[-112,1000],"nice":false,"zero":false},"axis":{"orient":"bottom","values":[-100,0,100,200,300,400,500,600,700,800,900,1000],"labels":false,"domain":false,"title":null}}}},
{"layer":[
{"transform":[{"filter":"isValid(datum.n)"}],"mark":{"type":"rect","fill":null,"stroke":"#888","strokeWidth":1.2},"encoding":{"x":{"field":"x1","type":"quantitative"},"x2":{"field":"x2"},"y":{"field":"y1","type":"quantitative"},"y2":{"field":"y2"}}},
{"transform":[{"filter":"isValid(datum.n)"}],"mark":{"type":"text"},"encoding":{"x":{"field":"nx","type":"quantitative"},"y":{"field":"ny","type":"quantitative"},"text":{"field":"n"}}},
{"transform":[{"filter":"isValid(datum.s)"}],"mark":{"type":"line","color":"#333","strokeWidth":1.2,"interpolate":"monotone"},"encoding":{
"x":{"field":"t","type":"quantitative","scale":{"domain":[-112,1000],"nice":false,"zero":false},"axis":{"orient":"bottom","values":[0,200,400,600,800,1000],"format":"d","labelFlush":false,"title":"ms","titleX":345,"titleY":-3,"titleBaseline":"alphabetic"}},
"y":{"field":"v","type":"quantitative","scale":{"domain":[-3,3.15],"reverse":true,"nice":false,"zero":false},"axis":{"tickCount":7,"format":"d","title":"µV (c)","titleAngle":0,"titleX":-7,"titleY":-14,"titleAlign":"left","titleBaseline":"middle"}},
"strokeDash":{"field":"s","type":"nominal","scale":{"domain":["A","AVF-VF","AVS-VS"],"range":[[6,3],[1,0],[1.5,1.5]]}}}},
{"transform":[{"filter":"isValid(datum.txt)"}],"mark":{"type":"text","align":"left"},"encoding":{"x":{"field":"t","type":"quantitative"},"y":{"field":"v","type":"quantitative"},"text":{"field":"txt"}}}
]}
]},
{"width":356,"height":171,
"data":{"name":"all"},"transform":[{"filter":"datum.p=='b'"}],
"resolve":{"scale":{"x":"independent"},"axis":{"x":"independent"}},
"layer":[
{"transform":[{"filter":"isValid(datum.z)"}],"mark":{"type":"rule","stroke":"#aaa","strokeDash":[2,2],"strokeWidth":1},"encoding":{"x":{"field":"z","type":"quantitative","scale":{"domain":[-112,1000],"nice":false,"zero":false},"axis":{"orient":"bottom","values":[-100,0,100,200,300,400,500,600,700,800,900,1000],"labels":false,"domain":false,"title":null}}}},
{"layer":[
{"transform":[{"filter":"isValid(datum.n)"}],"mark":{"type":"rect","fill":null,"stroke":"#888","strokeWidth":1.2},"encoding":{"x":{"field":"x1","type":"quantitative"},"x2":{"field":"x2"},"y":{"field":"y1","type":"quantitative"},"y2":{"field":"y2"}}},
{"transform":[{"filter":"isValid(datum.n)"}],"mark":{"type":"text"},"encoding":{"x":{"field":"nx","type":"quantitative"},"y":{"field":"ny","type":"quantitative"},"text":{"field":"n"}}},
{"transform":[{"filter":"isValid(datum.s)"}],"mark":{"type":"line","color":"#333","strokeWidth":1.2,"interpolate":"monotone"},"encoding":{
"x":{"field":"t","type":"quantitative","scale":{"domain":[-112,1000],"nice":false,"zero":false},"axis":{"orient":"bottom","values":[0,200,400,600,800,1000],"format":"d","labelFlush":false,"title":"ms","titleX":345,"titleY":-3,"titleBaseline":"alphabetic"}},
"y":{"field":"v","type":"quantitative","scale":{"domain":[-3,3.15],"reverse":true,"nice":false,"zero":false},"axis":{"tickCount":7,"format":"d","title":"µV (b)","titleAngle":0,"titleX":-6,"titleY":-14,"titleAlign":"left","titleBaseline":"middle"}},
"strokeDash":{"field":"s","type":"nominal","scale":{"domain":["A","AVF-VF","AVS-VS"],"range":[[6,3],[1,0],[1.5,1.5]]}}}},
{"transform":[{"filter":"isValid(datum.txt)"}],"mark":{"type":"text","align":"left"},"encoding":{"x":{"field":"t","type":"quantitative"},"y":{"field":"v","type":"quantitative"},"text":{"field":"txt"}}}
]}
]},
{"width":356,"height":171,
"data":{"name":"all"},"transform":[{"filter":"datum.p=='d'"}],
"resolve":{"scale":{"x":"independent"},"axis":{"x":"independent"}},
"layer":[
{"transform":[{"filter":"isValid(datum.z)"}],"mark":{"type":"rule","stroke":"#aaa","strokeDash":[2,2],"strokeWidth":1},"encoding":{"x":{"field":"z","type":"quantitative","scale":{"domain":[-112,1000],"nice":false,"zero":false},"axis":{"orient":"bottom","values":[-100,0,100,200,300,400,500,600,700,800,900,1000],"labels":false,"domain":false,"title":null}}}},
{"layer":[
{"transform":[{"filter":"isValid(datum.n)"}],"mark":{"type":"rect","fill":null,"stroke":"#888","strokeWidth":1.2},"encoding":{"x":{"field":"x1","type":"quantitative"},"x2":{"field":"x2"},"y":{"field":"y1","type":"quantitative"},"y2":{"field":"y2"}}},
{"transform":[{"filter":"isValid(datum.n)"}],"mark":{"type":"text"},"encoding":{"x":{"field":"nx","type":"quantitative"},"y":{"field":"ny","type":"quantitative"},"text":{"field":"n"}}},
{"transform":[{"filter":"isValid(datum.s)"}],"mark":{"type":"line","color":"#333","strokeWidth":1.2,"interpolate":"monotone"},"encoding":{
"x":{"field":"t","type":"quantitative","scale":{"domain":[-112,1000],"nice":false,"zero":false},"axis":{"orient":"bottom","values":[0,200,400,600,800,1000],"format":"d","labelFlush":false,"title":"ms","titleX":345,"titleY":-3,"titleBaseline":"alphabetic"}},
"y":{"field":"v","type":"quantitative","scale":{"domain":[-3,3.15],"reverse":true,"nice":false,"zero":false},"axis":{"tickCount":7,"format":"d","title":"µV (d)","titleAngle":0,"titleX":-7,"titleY":-14,"titleAlign":"left","titleBaseline":"middle"}},
"strokeDash":{"field":"s","type":"nominal","scale":{"domain":["A","AVF-VF","AVS-VS"],"range":[[6,3],[1,0],[1.5,1.5]]}}}},
{"transform":[{"filter":"isValid(datum.txt)"}],"mark":{"type":"text","align":"left"},"encoding":{"x":{"field":"t","type":"quantitative"},"y":{"field":"v","type":"quantitative"},"text":{"field":"txt"}}}
]}
]}
]
}
